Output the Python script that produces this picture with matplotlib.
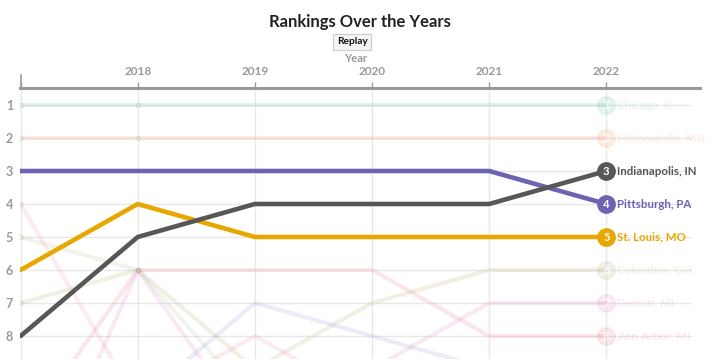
import matplotlib
matplotlib.use("Agg")
import matplotlib.pyplot as plt
from matplotlib.lines import Line2D

plt.rcParams['font.family'] = ['Lato', 'DejaVu Sans']

years = [2017, 2018, 2019, 2020, 2021, 2022]
year_labels = ["", "2018", "2019", "2020", "2021", "2022"]
ranks_shown = [1, 2, 3, 4, 5, 6, 7, 8]

# faded (non-highlighted) series
faded_names = ["Chicago, IL", "Minneapolis, MN", "Columbus, OH", "Detroit, MI",
               "Ann Arbor, MI", "Cleveland, OH", "Milwaukee, WI", "Cincinnati, OH"]
faded_values = [
    [1, 1, 1, 1, 1, 1],
    [2, 2, 2, 2, 2, 2],
    [7, 6, 9, 7, 6, 6],
    [14, 6, 11, 9, 7, 7],
    [11, 6, 6, 6, 8, 8],
    [4, 10, 8, 10, 11, 10],
    [5, 6, 10, 12, 12, 12],
    [9, 10, 7, 8, 9, 9],
]
faded_colors = ["#5fbfa2", "#f2935f", "#b3a766", "#e07fc4", "#ec6d84",
                "#f08aa6", "#a9c98a", "#8f90d8"]

# highlighted series
hl_names = ["Pittsburgh, PA", "St. Louis, MO", "Indianapolis, IN"]
hl_values = [
    [3, 3, 3, 3, 3, 4],
    [6, 4, 5, 5, 5, 5],
    [8, 5, 4, 4, 4, 3],
]
hl_colors = ["#6c63b3", "#e6a800", "#575757"]

W, H = 720, 359
fig = plt.figure(figsize=(W / 100, H / 100), dpi=100)
ax_left, ax_right = 20 / W, 700 / W
ax_top = 1 - 88 / H
ax = fig.add_axes([ax_left, 0, ax_right - ax_left, ax_top])

x_min, x_max = 2017 - 0.005, 2022.8
y_top = 1 - 17 / 33
y_bot = 1 + (359 - 105) / 33
ax.set_xlim(x_min, x_max)
ax.set_ylim(y_bot, y_top)

grid_c = "#e8e8e8"
for r in range(1, 15):
    ax.plot([2017, 2022.72], [r, r], color=grid_c, lw=1.0, zorder=1)
for yv in years:
    ax.axvline(yv, color=grid_c, lw=1.0, zorder=1)

def draw_series(vals, color, alpha, lw, z):
    ax.plot(years, vals, color=color, alpha=alpha, lw=lw, zorder=z,
            solid_capstyle='round', solid_joinstyle='round')

for vals, c in zip(faded_values, faded_colors):
    draw_series(vals, c, 0.17, 3.0, 2)
    ax.plot(years[:2], vals[:2], 'o', ms=3, mfc='none', mec="#aaaaaa", mew=0.6,
            alpha=0.35, zorder=2)

for vals, c in zip(hl_values, hl_colors):
    draw_series(vals, c, 1.0, 3.3, 4)

# end labels
def end_label(name, vals, color, alpha, z):
    r = vals[-1]
    if r > 8.5:
        return
    ax.plot([2022], [r], 'o', ms=12.5, color=color, alpha=alpha, zorder=z, clip_on=False)
    ax.text(2022, r, str(r), color="white", ha='center', va='center',
            fontsize=8, fontweight='bold', zorder=z + 1, alpha=1.0 if alpha == 1 else 0.9)
    ax.text(2022.095, r, name, color=color, alpha=alpha, ha='left', va='center',
            fontsize=8.3, fontweight='bold', zorder=z + 1, clip_on=False)

for n, v, c in zip(faded_names, faded_values, faded_colors):
    end_label(n, v, c, 0.15, 3)
for n, v, c in zip(hl_names, hl_values, hl_colors):
    end_label(n, v, c, 1.0, 6)

# axes styling
for s in ["left", "right", "bottom"]:
    ax.spines[s].set_visible(False)
ax.spines["top"].set_color("#999999")
ax.spines["top"].set_linewidth(2.2)
ax.xaxis.tick_top()
ax.set_xticks(years)
ax.set_xticklabels(year_labels)
ax.tick_params(axis='x', colors="#999999", length=4, width=1, pad=4, labelsize=8.5)
for lab in ax.get_xticklabels():
    lab.set_fontweight('bold')
ax.set_yticks(ranks_shown)
ax.set_yticklabels([str(r) for r in ranks_shown])
ax.tick_params(axis='y', length=0, pad=5, labelsize=9, colors="#999999")
for lab in ax.get_yticklabels():
    lab.set_fontweight('bold')

# outer tick at left end of axis
fig.add_artist(Line2D([20.5 / W, 20.5 / W], [1 - 88 / H, 1 - 75 / H],
                      color="#999999", lw=1.2))

# titles
fig.text(0.5, 1 - 22 / H, "Rankings Over the Years", ha='center', va='center',
         fontsize=12, fontweight='bold', color="#222222")
fig.text(352 / W, 1 - 42 / H, "Replay", ha='center', va='center', fontsize=7.3,
         fontweight='bold', color="#111111",
         bbox=dict(boxstyle="square,pad=0.35", fc="#f4f4f4", ec="#cccccc", lw=0.8))
fig.text(356 / W, 1 - 58 / H, "Year", ha='center', va='center', fontsize=8,
         fontweight='bold', color="#999999")

fig.savefig("out.png", dpi=100)
